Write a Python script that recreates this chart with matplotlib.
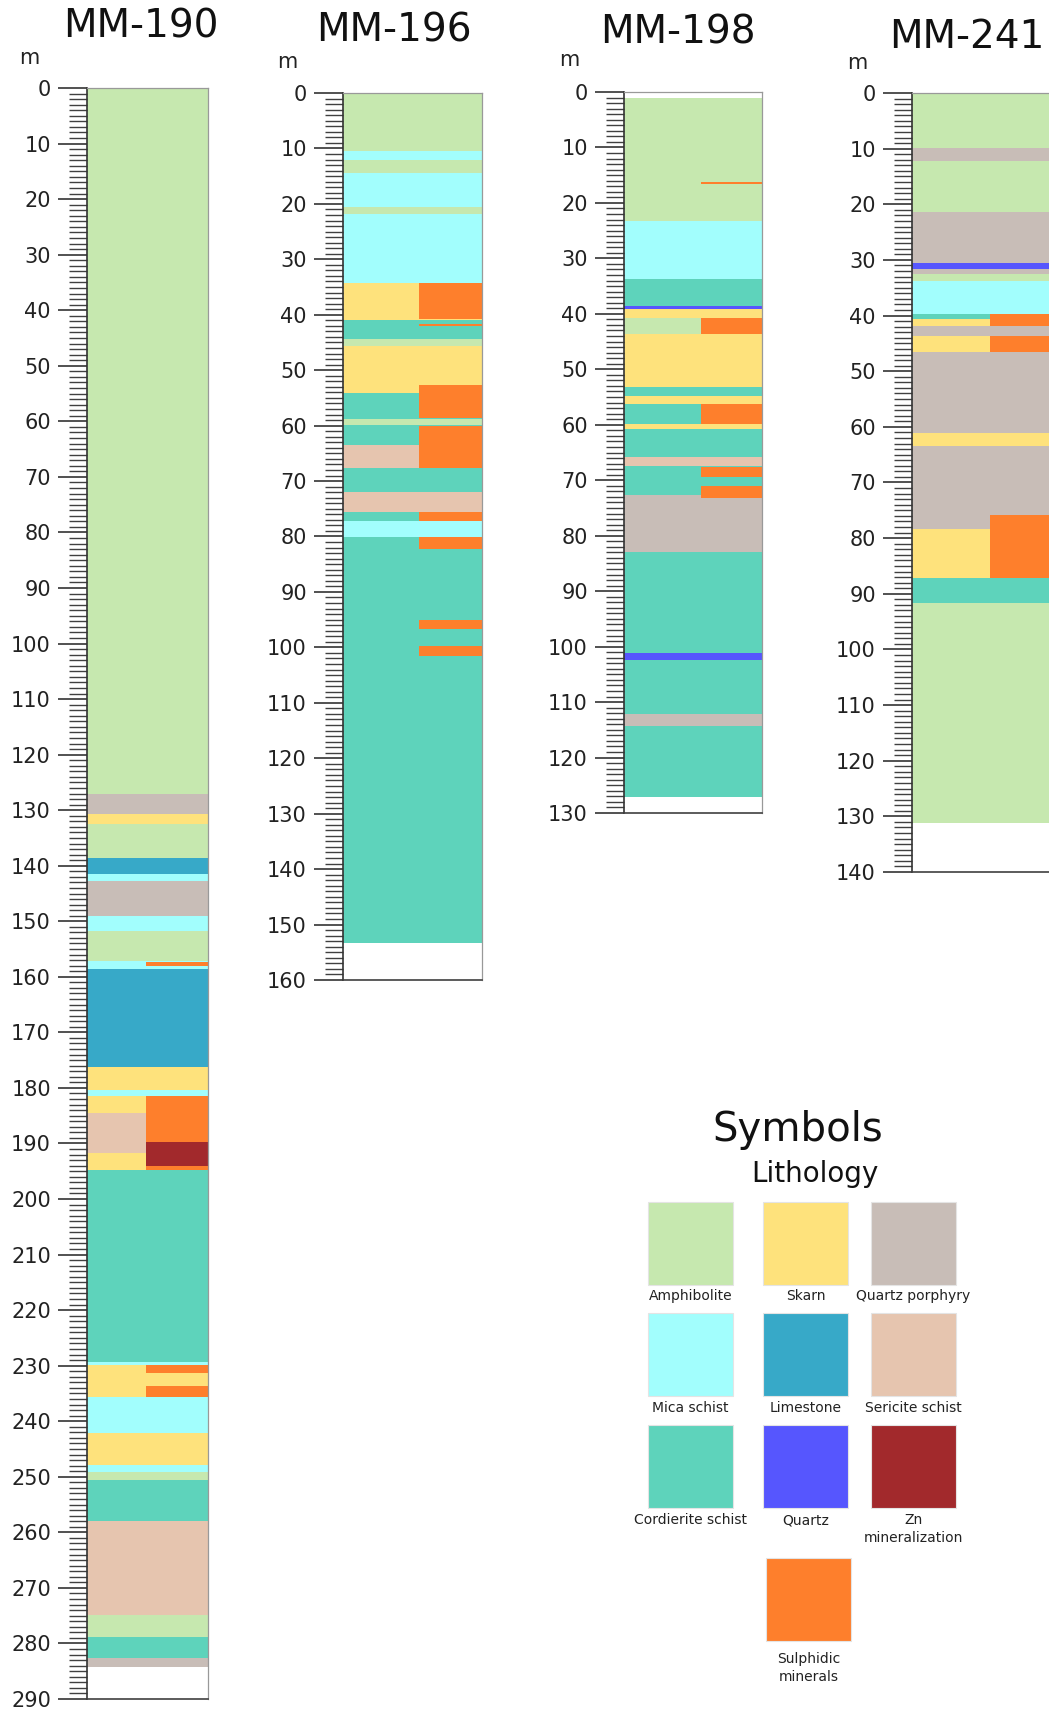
import matplotlib.pyplot as plt
from matplotlib.patches import Rectangle
from matplotlib.ticker import MultipleLocator

W, H = 1049, 1711

# lithology colours
ROCK_COLORS = {
    'Amphibolite': '#c6e8af',
    'Skarn': '#fee27c',
    'Quartz porphyry': '#c8bdb7',
    'Mica schist': '#a2fefd',
    'Limestone': '#37a9c8',
    'Sericite schist': '#e6c5af',
    'Cordierite schist': '#5ed3bb',
    'Quartz': '#5656fe',
    'Zn mineralization': '#a2292c',
    'Sulphidic minerals': '#fe7f2c',
}

# (top m, bottom m, rock) -- full-width lithology intervals
mm190_rocks = [
    (0.0, 127.0, 'Amphibolite'), (127.0, 130.6, 'Quartz porphyry'),
    (130.6, 132.4, 'Skarn'), (132.4, 138.6, 'Amphibolite'),
    (138.6, 141.4, 'Limestone'), (141.4, 142.8, 'Mica schist'),
    (142.8, 149.1, 'Quartz porphyry'), (149.1, 151.7, 'Mica schist'),
    (151.7, 157.2, 'Amphibolite'), (157.2, 158.6, 'Mica schist'),
    (158.6, 176.2, 'Limestone'), (176.2, 180.4, 'Skarn'),
    (180.4, 181.5, 'Mica schist'), (181.5, 184.5, 'Skarn'),
    (184.5, 191.7, 'Sericite schist'), (191.7, 194.7, 'Skarn'),
    (194.7, 229.4, 'Cordierite schist'), (229.4, 229.9, 'Mica schist'),
    (229.9, 235.7, 'Skarn'), (235.7, 242.1, 'Mica schist'),
    (242.1, 247.8, 'Skarn'), (247.8, 249.2, 'Mica schist'),
    (249.2, 250.5, 'Amphibolite'), (250.5, 257.9, 'Cordierite schist'),
    (257.9, 274.9, 'Sericite schist'), (274.9, 278.8, 'Amphibolite'),
    (278.8, 282.7, 'Cordierite schist'), (282.7, 284.3, 'Quartz porphyry'),
]
# (top m, bottom m, mineral) -- right-hand mineralisation column
mm190_minerals = [
    (157.4, 158.1, 'Sulphidic minerals'), (181.5, 189.7, 'Sulphidic minerals'),
    (189.7, 194.1, 'Zn mineralization'), (194.1, 194.7, 'Sulphidic minerals'),
    (229.9, 231.4, 'Sulphidic minerals'), (233.7, 235.7, 'Sulphidic minerals'),
]

mm196_rocks = [
    (0.0, 10.5, 'Amphibolite'), (10.5, 12.1, 'Mica schist'),
    (12.1, 14.4, 'Amphibolite'), (14.4, 20.5, 'Mica schist'),
    (20.5, 21.8, 'Amphibolite'), (21.8, 34.2, 'Mica schist'),
    (34.2, 40.9, 'Skarn'), (40.9, 44.4, 'Cordierite schist'),
    (44.4, 45.6, 'Amphibolite'), (45.6, 54.1, 'Skarn'),
    (54.1, 58.8, 'Cordierite schist'), (58.8, 59.9, 'Amphibolite'),
    (59.9, 63.5, 'Cordierite schist'), (63.5, 67.7, 'Sericite schist'),
    (67.7, 72.0, 'Cordierite schist'), (72.0, 75.5, 'Sericite schist'),
    (75.5, 77.2, 'Cordierite schist'), (77.2, 80.0, 'Mica schist'),
    (80.0, 153.4, 'Cordierite schist'),
]
mm196_minerals = [
    (34.2, 40.7, 'Sulphidic minerals'), (41.6, 42.0, 'Sulphidic minerals'),
    (52.7, 58.7, 'Sulphidic minerals'), (60.0, 67.7, 'Sulphidic minerals'),
    (75.5, 77.2, 'Sulphidic minerals'), (80.0, 82.3, 'Sulphidic minerals'),
    (95.1, 96.7, 'Sulphidic minerals'), (99.8, 101.6, 'Sulphidic minerals'),
]

mm198_rocks = [
    (1.1, 23.2, 'Amphibolite'), (23.2, 33.8, 'Mica schist'),
    (33.8, 38.6, 'Cordierite schist'), (38.6, 39.2, 'Quartz'),
    (39.2, 40.7, 'Skarn'), (40.7, 43.7, 'Amphibolite'),
    (43.7, 53.2, 'Skarn'), (53.2, 54.9, 'Cordierite schist'),
    (54.9, 56.2, 'Skarn'), (56.2, 59.8, 'Cordierite schist'),
    (59.8, 60.7, 'Skarn'), (60.7, 65.9, 'Cordierite schist'),
    (65.9, 67.5, 'Sericite schist'), (67.5, 72.6, 'Cordierite schist'),
    (72.6, 82.9, 'Quartz porphyry'), (82.9, 101.1, 'Cordierite schist'),
    (101.1, 102.5, 'Quartz'), (102.5, 112.1, 'Cordierite schist'),
    (112.1, 114.3, 'Quartz porphyry'), (114.3, 127.2, 'Cordierite schist'),
]
mm198_minerals = [
    (16.3, 16.6, 'Sulphidic minerals'), (40.7, 43.6, 'Sulphidic minerals'),
    (56.2, 59.8, 'Sulphidic minerals'), (67.7, 69.4, 'Sulphidic minerals'),
    (71.1, 73.2, 'Sulphidic minerals'),
]

mm241_rocks = [
    (0.0, 9.8, 'Amphibolite'), (9.8, 12.2, 'Quartz porphyry'),
    (12.2, 21.4, 'Amphibolite'), (21.4, 30.5, 'Quartz porphyry'),
    (30.5, 31.6, 'Quartz'), (31.6, 32.5, 'Quartz porphyry'),
    (32.5, 33.7, 'Amphibolite'), (33.7, 39.7, 'Mica schist'),
    (39.7, 40.7, 'Cordierite schist'), (40.7, 41.8, 'Skarn'),
    (41.8, 43.6, 'Quartz porphyry'), (43.6, 46.6, 'Skarn'),
    (46.6, 61.1, 'Quartz porphyry'), (61.1, 63.5, 'Skarn'),
    (63.5, 78.4, 'Quartz porphyry'), (78.4, 87.2, 'Skarn'),
    (87.2, 91.6, 'Cordierite schist'), (91.6, 131.2, 'Amphibolite'),
]
mm241_minerals = [
    (39.7, 41.8, 'Sulphidic minerals'), (43.6, 46.6, 'Sulphidic minerals'),
    (75.9, 87.2, 'Sulphidic minerals'),
]

boreholes = ['MM-190', 'MM-196', 'MM-198', 'MM-241']
total_depth = [290, 160, 130, 140]
rocks = [mm190_rocks, mm196_rocks, mm198_rocks, mm241_rocks]
minerals = [mm190_minerals, mm196_minerals, mm198_minerals, mm241_minerals]

legend_labels = [
    ['Amphibolite', 'Skarn', 'Quartz porphyry'],
    ['Mica schist', 'Limestone', 'Sericite schist'],
    ['Cordierite schist', 'Quartz', 'Zn mineralization'],
    [None, 'Sulphidic minerals', None],
]

# layout in pixels: column left/right, y of top and bottom of the depth scale,
# title centre x / baseline y, position of the "m" unit label
frames = [
    dict(x0=87, x1=208, yt=88, yb=1699, split=0.49, title=(141, 37), m=(29, 58)),
    dict(x0=343, x1=482, yt=93, yb=980, split=0.55, title=(394, 42), m=(287, 62)),
    dict(x0=624, x1=762, yt=92, yb=813, split=0.56, title=(678, 44), m=(569, 60)),
    dict(x0=912, x1=1056, yt=93, yb=872, split=0.54, title=(967, 48), m=(857, 63)),
]

fig = plt.figure(figsize=(W / 100, H / 100), dpi=100)

for name, depth, rk, mn, f in zip(boreholes, total_depth, rocks, minerals, frames):
    ax = fig.add_axes([f['x0'] / W, 1 - f['yb'] / H,
                       (f['x1'] - f['x0']) / W, (f['yb'] - f['yt']) / H])
    ax.set_xlim(0, 1)
    ax.set_ylim(depth, 0)
    for top, bot, r in rk:
        ax.barh(top, 1, height=bot - top, left=0, align='edge',
                color=ROCK_COLORS[r], linewidth=0)
    s = f['split']
    for top, bot, r in mn:
        ax.barh(top, 1 - s, height=bot - top, left=s, align='edge',
                color=ROCK_COLORS[r], linewidth=0)

    ax.set_xticks([])
    ax.yaxis.set_major_locator(MultipleLocator(10))
    ax.yaxis.set_minor_locator(MultipleLocator(1))
    ax.tick_params(axis='y', which='major', length=21, width=1.2, pad=5,
                   labelsize=15, color='0.2', labelcolor='#222222')
    ax.tick_params(axis='y', which='minor', length=13, width=1.0, color='0.25')
    ax.spines['left'].set_color('0.2')
    ax.spines['left'].set_linewidth(1.2)
    ax.spines['bottom'].set_color('0.25')
    ax.spines['bottom'].set_linewidth(1.2)
    for side in ['top', 'right']:
        ax.spines[side].set_color('0.6')
        ax.spines[side].set_linewidth(0.9)

    fig.text(f['title'][0] / W, 1 - f['title'][1] / H, name, fontsize=28,
             ha='center', va='baseline', color='#111111')
    fig.text(f['m'][0] / W, 1 - f['m'][1] / H, 'm', fontsize=15,
             ha='center', va='center', color='#222222')

# legend drawn in pixel coordinates on an overlay
lg = fig.add_axes([0, 0, 1, 1], zorder=-1)
lg.set_xlim(0, W)
lg.set_ylim(H, 0)
lg.axis('off')

lg.text(798, 1141, 'Symbols', fontsize=29, ha='center', va='baseline', color='#111111')
lg.text(815, 1182, 'Lithology', fontsize=20, ha='center', va='baseline', color='#111111')

col_left = [648, 763, 871]
row_top = [1202, 1313, 1425, 1558]
label_top = [1289, 1401, 1513, 1652]
sw_w, sw_h = 85, 83
for i, row in enumerate(legend_labels):
    for j, lab in enumerate(row):
        if lab is None:
            continue
        x = col_left[j] + (3 if i == 3 else 0)
        lg.add_patch(Rectangle((x, row_top[i]), sw_w, sw_h,
                               facecolor=ROCK_COLORS[lab], edgecolor='#e4e4e4',
                               linewidth=0.8))
        txt = lab
        if lab == 'Zn mineralization':
            txt = 'Zn\nmineralization'
        elif lab == 'Sulphidic minerals':
            txt = 'Sulphidic\nminerals'
        lg.text(x + sw_w / 2, label_top[i], txt, fontsize=10, ha='center',
                va='top', color='#222222', linespacing=1.35)

fig.savefig('out.png', dpi=100)
